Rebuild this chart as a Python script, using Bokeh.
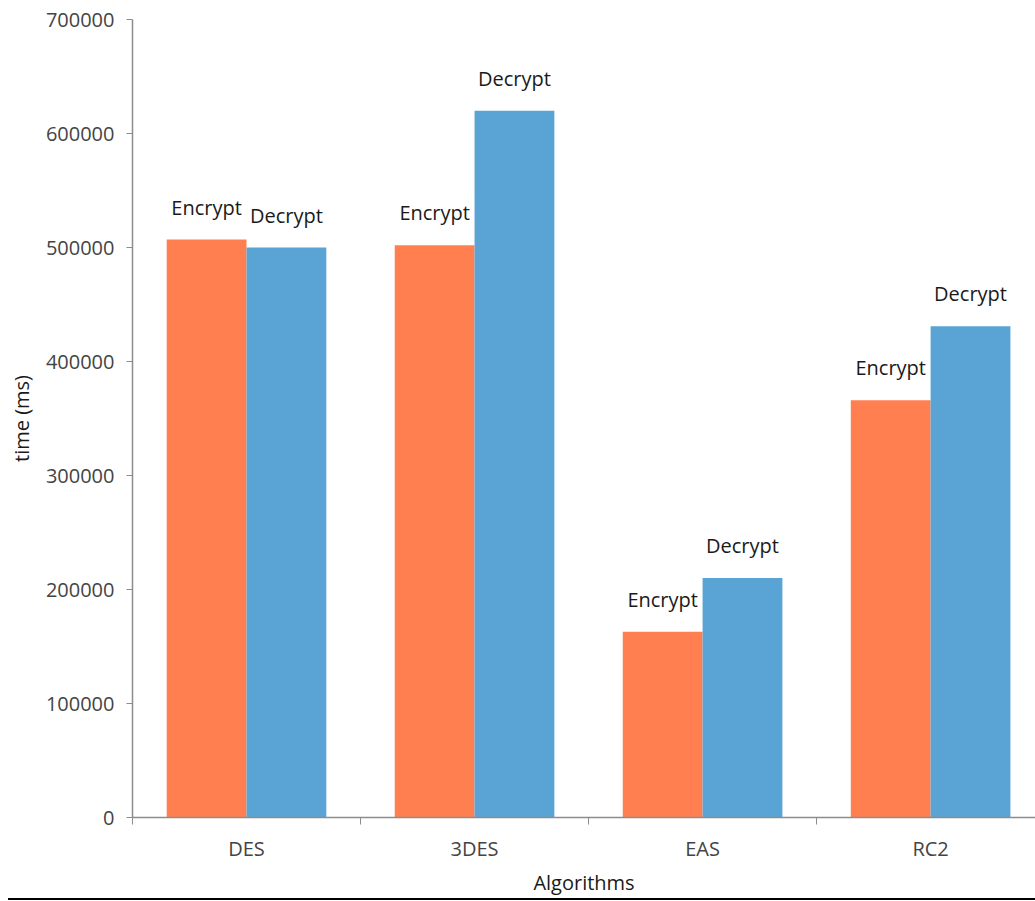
from bokeh.plotting import figure
from bokeh.models import ColumnDataSource, FixedTicker, Range1d, BasicTickFormatter, Div
from bokeh.layouts import column
from bokeh.transform import dodge
from bokeh.core.properties import value
from bokeh.embed import file_html
from bokeh.resources import INLINE

algorithms = ["DES", "3DES", "EAS", "RC2"]
encrypt_ms = [507000, 502000, 163000, 366000]
decrypt_ms = [500000, 620000, 210000, 431000]
series_names = ["Encrypt", "Decrypt"]
y_ticks = [0, 100000, 200000, 300000, 400000, 500000, 600000, 700000]

FONT = "Open Sans"
ENC_COLOR = "#FF7F50"
DEC_COLOR = "#5AA4D5"

centers = [i + 0.5 for i in range(len(algorithms))]
src = ColumnDataSource(dict(
    x=centers,
    enc=encrypt_ms,
    dec=decrypt_ms,
    enc_label=[series_names[0]] * len(algorithms),
    dec_label=[series_names[1]] * len(algorithms),
))

p = figure(
    width=1035, height=898,
    x_range=Range1d(0, 3.96), y_range=Range1d(0, 700000),
    output_backend="svg", toolbar_location=None,
    min_border_left=132, min_border_right=0, min_border_top=19, min_border_bottom=80,
)
p.outline_line_color = None
p.grid.grid_line_color = None
p.background_fill_color = "white"
p.border_fill_color = "white"

bar_w = 0.35
p.vbar(x=dodge("x", -bar_w / 2, range=p.x_range), top="enc", width=bar_w, bottom=0,
       source=src, fill_color=ENC_COLOR, line_color=None)
p.vbar(x=dodge("x", bar_w / 2, range=p.x_range), top="dec", width=bar_w, bottom=0,
       source=src, fill_color=DEC_COLOR, line_color=None)

for col, lab, off in (("enc", "enc_label", -bar_w / 2), ("dec", "dec_label", bar_w / 2)):
    p.text(x=dodge("x", off, range=p.x_range), y=col, text=lab, source=src,
           text_font=value(FONT), text_font_size="20px", text_color="#1a1a1a",
           text_align="center", text_baseline="bottom", y_offset=-19)

axis_color = "#8c8c8c"
# x axis: category labels at centers, separator ticks at boundaries
xa = p.xaxis[0]
xa.ticker = FixedTicker(ticks=centers, minor_ticks=[0, 1, 2, 3, 4])
xa.major_label_overrides = {c: name for c, name in zip(centers, algorithms)}
xa.major_tick_out = 0
xa.major_tick_in = 0
xa.minor_tick_out = 7
xa.minor_tick_in = 0
xa.minor_tick_line_color = axis_color
xa.axis_line_color = axis_color
xa.axis_line_width = 1.5
xa.major_label_standoff = 10
xa.major_label_text_font = FONT
xa.major_label_text_font_size = "20px"
xa.major_label_text_color = "#444444"
xa.axis_label = "Algorithms"
xa.axis_label_text_font = FONT
xa.axis_label_text_font_size = "20px"
xa.axis_label_text_font_style = "normal"
xa.axis_label_text_color = "#1a1a1a"
xa.axis_label_standoff = 4

ya = p.yaxis[0]
ya.ticker = FixedTicker(ticks=y_ticks)
ya.formatter = BasicTickFormatter(use_scientific=False)
ya.major_tick_out = 6
ya.major_tick_in = 0
ya.minor_tick_line_color = None
ya.major_tick_line_color = axis_color
ya.axis_line_color = axis_color
ya.axis_line_width = 1.5
ya.major_label_standoff = 12
ya.major_label_text_font = FONT
ya.major_label_text_font_size = "20px"
ya.major_label_text_color = "#444444"
ya.axis_label = "time (ms)"
ya.axis_label_text_font = FONT
ya.axis_label_text_font_size = "20px"
ya.axis_label_text_font_style = "normal"
ya.axis_label_text_color = "#1a1a1a"
ya.axis_label_standoff = 8

# thin black rule under the chart
rule = Div(text="", width=1027, height=2, margin=(0, 0, 0, 8),
           styles={"background-color": "black"})

layout = column(p, rule, spacing=0)

open("out.html", "w").write(file_html(layout, INLINE))
